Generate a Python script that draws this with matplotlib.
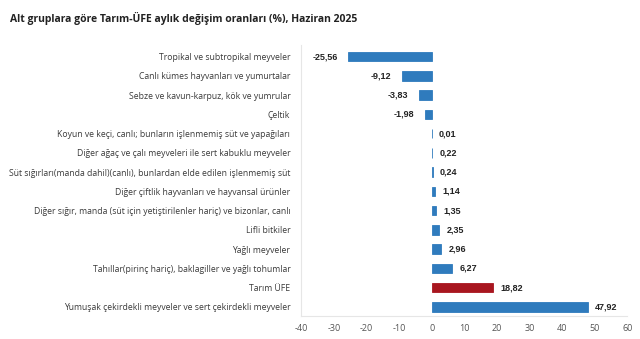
import matplotlib
matplotlib.use("Agg")
import matplotlib.pyplot as plt

# Data (top to bottom)
categories = [
    "Tropikal ve subtropikal meyveler",
    "Canlı kümes hayvanları ve yumurtalar",
    "Sebze ve kavun-karpuz, kök ve yumrular",
    "Çeltik",
    "Koyun ve keçi, canlı; bunların işlenmemiş süt ve yapağıları",
    "Diğer ağaç ve çalı meyveleri ile sert kabuklu meyveler",
    "Süt sığırları(manda dahil)(canlı), bunlardan elde edilen işlenmemiş süt",
    "Diğer çiftlik hayvanları ve hayvansal ürünler",
    "Diğer sığır, manda (süt için yetiştirilenler hariç) ve bizonlar, canlı",
    "Lifli bitkiler",
    "Yağlı meyveler",
    "Tahıllar(pirinç hariç), baklagiller ve yağlı tohumlar",
    "Tarım ÜFE",
    "Yumuşak çekirdekli meyveler ve sert çekirdekli meyveler",
]
values = [-25.56, -9.12, -3.83, -1.98, 0.01, 0.22, 0.24, 1.14, 1.35, 2.35, 2.96, 6.27, 18.82, 47.92]
highlight = "Tarım ÜFE"
xticks = [-40, -30, -20, -10, 0, 10, 20, 30, 40, 50, 60]

blue = "#2F7BBD"
red = "#A8161F"
colors = [red if c == highlight else blue for c in categories]

plt.rcParams['font.family'] = ['Open Sans', 'DejaVu Sans']

fig = plt.figure(figsize=(6.4, 3.39), dpi=100)
ax = fig.add_axes([0.471, 0.068, 0.509, 0.80])

y = list(range(len(categories)))
ax.barh(y, values, height=0.5, color=colors, edgecolor=colors, linewidth=0.6)

for yi, v in zip(y, values):
    txt = f"{v:.2f}".replace(".", ",")
    if v < 0:
        ax.text(v - 3.3, yi, txt, ha="right", va="center", fontsize=6.5,
                fontweight="bold", family="Liberation Sans", color="#222222")
    else:
        ax.text(v + 2.2, yi, txt, ha="left", va="center", fontsize=6.5,
                fontweight="bold", family="Liberation Sans", color="#222222")

ax.set_yticks(y)
ax.set_yticklabels(categories, fontsize=6.2, color="#3a3a3a")
ax.set_ylim(13.47, -0.62)
ax.set_xlim(-40, 60)
ax.set_xticks(xticks)
ax.set_xticklabels([str(t) for t in xticks], fontsize=6.5, color="#555555")
ax.tick_params(length=0, pad=6)
ax.tick_params(axis="y", pad=8)

for s in ["top", "right"]:
    ax.spines[s].set_visible(False)
for s in ["left", "bottom"]:
    ax.spines[s].set_color("#e6e6e6")
    ax.spines[s].set_linewidth(0.8)

fig.text(0.016, 0.935, "Alt gruplara göre Tarım-ÜFE aylık değişim oranları (%), Haziran 2025",
         fontsize=7.5, fontweight="bold", color="#222222")

fig.savefig("out.png", dpi=100)
